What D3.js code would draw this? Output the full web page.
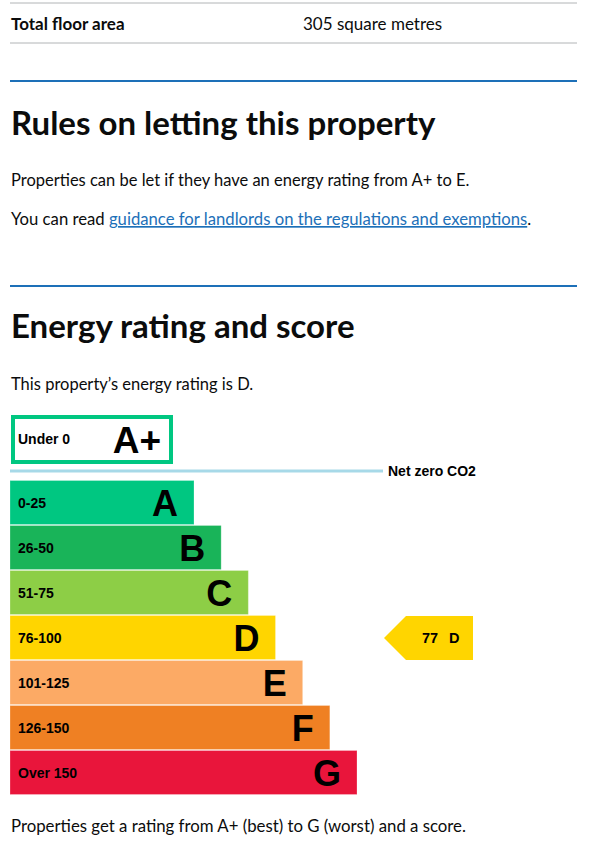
<!DOCTYPE html>
<html>
<head>
<meta charset="utf-8">
<script src="https://cdn.jsdelivr.net/npm/d3@7"></script>
<style>
  html, body { margin: 0; padding: 0; background: #fff; }
  svg { display: block; }
</style>
</head>
<body>
<div id="chart"></div>
<script>
// ---- data ----
const bands = ['A+', 'A', 'B', 'C', 'D', 'E', 'F', 'G'];
const ranges = ['Under 0', '0-25', '26-50', '51-75', '76-100', '101-125', '126-150', 'Over 150'];
const bandColors = ['#00c781', '#00c781', '#19b459', '#8dce46', '#ffd500', '#fcaa65', '#ef8023', '#e9153b'];
const currentScore = 77;
const currentRating = 'D';
const floorArea = '305 square metres';

// ---- layout ----
const W = 607, H = 841;
const bodyFont = "Lato, 'Noto Sans', Arial, sans-serif";
const chartFont = "'Liberation Sans', Arial, sans-serif";

const svg = d3.select('#chart').append('svg').attr('width', W).attr('height', H);

function rule(y, color, w) {
  svg.append('line').attr('x1', 10).attr('x2', 577).attr('y1', y).attr('y2', y)
    .attr('stroke', color).attr('stroke-width', w);
}
function txt(x, y, s, size, weight, fill) {
  return svg.append('text').attr('x', x).attr('y', y).text(s)
    .attr('font-family', bodyFont).attr('font-size', size)
    .attr('font-weight', weight || 400).attr('fill', fill || '#0b0c0c');
}

// summary row
rule(3, '#b1b4b6', 1);
txt(11, 30, 'Total floor area', 17, 700);
txt(303, 30, floorArea, 17, 400);
rule(43, '#b1b4b6', 1);

// Rules section
rule(81, '#1d70b8', 2);
txt(11, 135, 'Rules on letting this property', 33, 700);
txt(11, 186, 'Properties can be let if they have an energy rating from A+ to E.', 16.5);
const t2 = txt(11, 225, '', 16.7);
t2.append('tspan').text('You can read ');
t2.append('tspan').text('guidance for landlords on the regulations and exemptions')
  .attr('fill', '#1d70b8').attr('text-decoration', 'underline');
t2.append('tspan').text('.');

// Energy section
rule(286, '#1d70b8', 2);
txt(11, 338, 'Energy rating and score', 33, 700);
txt(11, 390, 'This property\u2019s energy rating is ' + currentRating + '.', 16.5);

// ---- chart ----
const barBands = bands.slice(1);
const y = d3.scaleBand().domain(barBands).range([480, 795]);
const xEnd = d3.scaleLinear().domain([1, 7]).range([194, 357]);
const x0 = 10;

// A+ box
const apIdx = 0;
svg.append('rect').attr('x', 13).attr('y', 417).attr('width', 158).attr('height', 45)
  .attr('fill', '#fff').attr('stroke', bandColors[apIdx]).attr('stroke-width', 4);
svg.append('text').attr('x', 18).attr('y', 444).text(ranges[apIdx])
  .attr('font-family', chartFont).attr('font-weight', 700).attr('font-size', 14).attr('fill', '#000');
svg.append('text').attr('x', 161).attr('y', 453).text(bands[apIdx]).attr('text-anchor', 'end')
  .attr('font-family', chartFont).attr('font-weight', 700).attr('font-size', 37).attr('fill', '#000');

// Net zero line
svg.append('line').attr('x1', x0).attr('x2', 383).attr('y1', 471).attr('y2', 471)
  .attr('stroke', '#a7d9e8').attr('stroke-width', 3);
svg.append('text').attr('x', 388).attr('y', 476).text('Net zero CO2')
  .attr('font-family', chartFont).attr('font-weight', 700).attr('font-size', 14).attr('fill', '#000');

const rows = barBands.map((b, i) => ({ band: b, idx: i + 1, range: ranges[i + 1], color: bandColors[i + 1] }));
const g = svg.append('g').selectAll('g').data(rows).join('g');
g.append('rect')
  .attr('x', x0).attr('y', d => y(d.band) + 0.5)
  .attr('width', d => xEnd(d.idx) - x0).attr('height', y.bandwidth() - 1)
  .attr('fill', d => d.color)
  .attr('stroke', '#fff').attr('stroke-opacity', 0.25).attr('stroke-width', 1);
g.append('text')
  .attr('x', 18).attr('y', d => y(d.band) + y.bandwidth() / 2 + 5)
  .text(d => d.range)
  .attr('font-family', chartFont).attr('font-weight', 700).attr('font-size', 14).attr('fill', '#000');
g.append('text')
  .attr('x', d => xEnd(d.idx) - 16).attr('y', d => y(d.band) + y.bandwidth() / 2 + 13.5)
  .attr('text-anchor', 'end')
  .text(d => d.band)
  .attr('font-family', chartFont).attr('font-weight', 700).attr('font-size', 36).attr('fill', '#000');

// current score arrow
const cy0 = y(currentRating) + 1, cy1 = y(currentRating) + y.bandwidth();
const cmid = (cy0 + cy1) / 2;
const ax = 384, ab = 406, ar = 473;
svg.append('polygon')
  .attr('points', [[ax, cmid], [ab, cy0], [ar, cy0], [ar, cy1], [ab, cy1]].map(p => p.join(',')).join(' '))
  .attr('fill', bandColors[bands.indexOf(currentRating)]);
svg.append('text').attr('x', 422).attr('y', cmid + 5).text(currentScore)
  .attr('font-family', chartFont).attr('font-weight', 700).attr('font-size', 14.5).attr('fill', '#000');
svg.append('text').attr('x', 449).attr('y', cmid + 5).text(currentRating)
  .attr('font-family', chartFont).attr('font-weight', 700).attr('font-size', 14.5).attr('fill', '#000');

// footer
txt(11, 832, 'Properties get a rating from A+ (best) to G (worst) and a score.', 16.8);
</script>
</body>
</html>
